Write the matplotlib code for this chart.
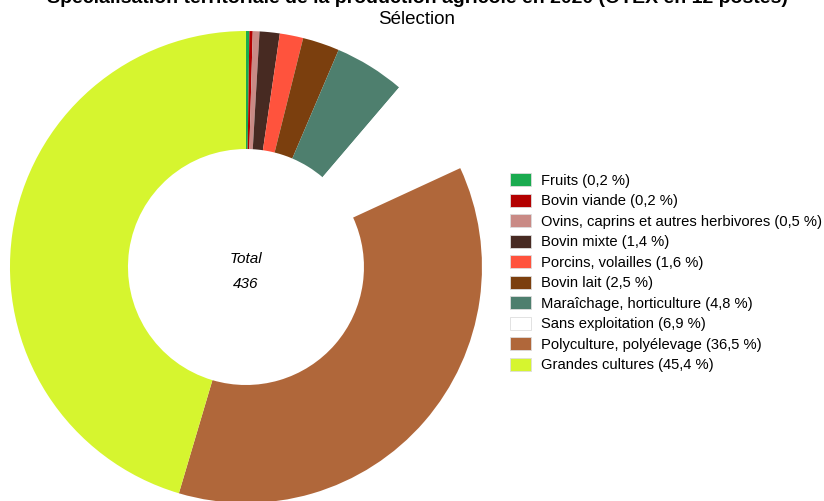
import matplotlib
matplotlib.use("Agg")
import matplotlib.pyplot as plt
from matplotlib.patches import Patch

plt.rcParams['font.family'] = ['Liberation Sans', 'DejaVu Sans']

categories = ["Fruits", "Bovin viande", "Ovins, caprins et autres herbivores",
              "Bovin mixte", "Porcins, volailles", "Bovin lait",
              "Maraîchage, horticulture", "Sans exploitation",
              "Polyculture, polyélevage", "Grandes cultures"]
counts = [1, 1, 2, 6, 7, 11, 21, 30, 159, 198]
pct_labels = ["0,2", "0,2", "0,5", "1,4", "1,6", "2,5", "4,8", "6,9", "36,5", "45,4"]
colors = ["#1aab4f", "#b30000", "#c98a85", "#472a22", "#ff533d", "#7b3f0e",
          "#4e7f6e", "#ffffff", "#b0673a", "#d6f52f"]
total = sum(counts)

fig = plt.figure(figsize=(8.24, 5.01), dpi=100)
ax = fig.add_axes([0.0121, -0.004, 0.5728, 0.9421])
ax.pie(counts, colors=colors, startangle=90, counterclock=False, radius=1,
       wedgeprops=dict(width=0.5, linewidth=0))
ax.set_xlim(-1, 1)
ax.set_ylim(-1, 1)

# texte au centre du donut
ax.text(0, 0.035, "Total", ha='center', va='center', style='italic', fontsize=11)
ax.text(0, -0.072, str(total), ha='center', va='center', style='italic', fontsize=11)

fig.text(0.506, 1 - 3 / 501, "Spécialisation territoriale de la production agricole en 2020 (OTEX en 12 postes)",
         ha='center', va='baseline', fontsize=14, fontweight='bold')
fig.text(0.505, 1 - 20 / 501, "Sélection", ha='center', va='center', fontsize=13.5)

handles = [Patch(facecolor=c, edgecolor='#dddddd', linewidth=0.6) for c in colors]
labels = [f"{n} ({p} %)" for n, p in zip(categories, pct_labels)]
fig.legend(handles, labels, loc='upper left', bbox_to_anchor=(510 / 824, 1 - 173 / 501),
           frameon=False, fontsize=10.6, handlelength=1.4, handleheight=1.0,
           handletextpad=0.68, labelspacing=0.4, borderaxespad=0, borderpad=0)

fig.savefig("out.png", dpi=100)
